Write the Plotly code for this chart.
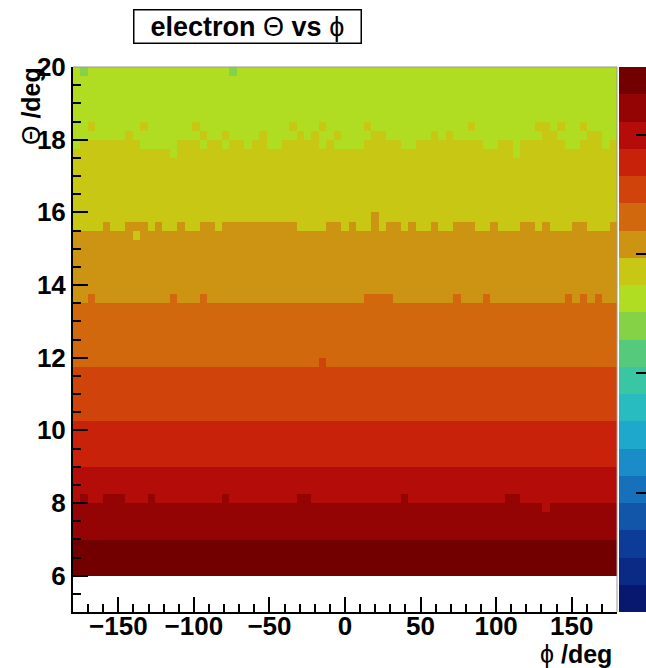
import numpy as np
import plotly.graph_objects as go

# ---------------- data ----------------
# histogram binning
phi_min, phi_max, n_phi = -180.0, 180.0, 73
theta_lo, theta_hi, theta_step = 6.0, 20.0, 0.25

# colour level (0 = lowest, 19 = highest of the 20 log-z contours) per theta row, bottom -> top
row_level = [19, 19, 19, 19,          # 6.00 - 7.00
             18, 18, 18, 18,          # 7.00 - 8.00
             17, 17, 17, 17,          # 8.00 - 9.00
             16, 16, 16, 16, 16,      # 9.00 - 10.25
             15, 15, 15, 15, 15, 15,  # 10.25 - 11.75
             14, 14, 14, 14, 14, 14, 14,  # 11.75 - 13.50
             13, 13, 13, 13, 13, 13, 13, 13,  # 13.50 - 15.50
             12, 12, 12, 12, 12, 12, 12, 12, 12, 12,  # 15.50 - 18.00
             11, 11, 11, 11, 11, 11, 11, 11]  # 18.00 - 20.00

# cells that differ from their row level: (row, column, level)
exceptions = [
    (55, 1, 10), (55, 21, 10),
    (49, 2, 12), (49, 9, 12), (49, 16, 12), (49, 29, 12), (49, 33, 12),
    (49, 39, 12), (49, 53, 12), (49, 62, 12), (49, 63, 12), (49, 65, 12), (49, 68, 12),
    (48, 7, 12), (48, 17, 12), (48, 20, 12), (48, 25, 12), (48, 30, 12), (48, 32, 12),
    (48, 35, 12), (48, 40, 12), (48, 41, 12), (48, 48, 12), (48, 50, 12),
    (48, 63, 12), (48, 64, 12), (48, 69, 12), (48, 70, 12),
    (47, 0, 11), (47, 9, 11), (47, 10, 11), (47, 11, 11), (47, 12, 11), (47, 13, 11),
    (47, 17, 11), (47, 20, 11), (47, 23, 11), (47, 26, 11), (47, 27, 11), (47, 33, 11),
    (47, 35, 11), (47, 36, 11), (47, 37, 11), (47, 38, 11), (47, 44, 11), (47, 45, 11),
    (47, 55, 11), (47, 56, 11), (47, 59, 11), (47, 66, 11), (47, 67, 11), (47, 71, 11),
    (46, 13, 11), (46, 59, 11),
    (39, 40, 13),
    (38, 4, 13), (38, 7, 13), (38, 8, 13), (38, 9, 13), (38, 11, 13), (38, 14, 13),
    (38, 17, 13), (38, 18, 13), (38, 20, 13), (38, 21, 13), (38, 22, 13), (38, 23, 13),
    (38, 24, 13), (38, 25, 13), (38, 26, 13), (38, 27, 13), (38, 28, 13), (38, 29, 13),
    (38, 34, 13), (38, 35, 13), (38, 37, 13), (38, 40, 13), (38, 42, 13), (38, 43, 13),
    (38, 45, 13), (38, 48, 13), (38, 51, 13), (38, 52, 13), (38, 53, 13), (38, 56, 13),
    (38, 60, 13), (38, 61, 13), (38, 63, 13), (38, 67, 13), (38, 68, 13), (38, 72, 13),
    (37, 8, 12),
    (30, 2, 14), (30, 13, 14), (30, 17, 14), (30, 39, 14), (30, 40, 14), (30, 41, 14),
    (30, 42, 14), (30, 51, 14), (30, 55, 14), (30, 66, 14), (30, 68, 14), (30, 70, 14),
    (23, 33, 15),
    (8, 1, 18), (8, 4, 18), (8, 5, 18), (8, 6, 18), (8, 10, 18), (8, 20, 18),
    (8, 30, 18), (8, 31, 18), (8, 44, 18), (8, 58, 18), (8, 59, 18),
    (7, 63, 17),
]

# log10(counts) scale of the colour palette
log_z_min, log_z_max, n_levels = 0.0, 4.57, 20
palette = ["#07186e", "#0a2a86", "#0c3c98", "#1256aa", "#1670bc",
           "#1a8cc8", "#1ea8cc", "#28bcc0", "#3ac6a4", "#56ca7c",
           "#86d246", "#b0dc22", "#c8c814", "#cc9412", "#d2680e",
           "#d0440c", "#c8220a", "#b40c08", "#940404", "#720000"]

# axis ticks
x_tickvals = [-150, -100, -50, 0, 50, 100, 150]
y_tickvals = [6, 8, 10, 12, 14, 16, 18, 20]
cbar_major = [0, 1, 2, 3, 4]

# ---------------- build histogram ----------------
x_edges = np.linspace(phi_min, phi_max, n_phi + 1)
x_cent = 0.5 * (x_edges[:-1] + x_edges[1:])
n_theta = int(round((theta_hi - theta_lo) / theta_step))
y_edges = theta_lo + theta_step * np.arange(n_theta + 1)
y_cent = 0.5 * (y_edges[:-1] + y_edges[1:])

dz = (log_z_max - log_z_min) / n_levels
levels = np.array(row_level, dtype=float)[:, None] * np.ones((1, n_phi))
for r, c, lv in exceptions:
    levels[r, c] = lv
z = log_z_min + (levels + 0.5) * dz

colorscale = []
for i, col in enumerate(palette):
    colorscale.append([i / n_levels, col])
    colorscale.append([(i + 1) / n_levels, col])

cbar_minor = [np.log10(m * 10 ** d) for d in range(0, 5) for m in range(2, 10)
              if np.log10(m * 10 ** d) < log_z_max]

font_family = "Liberation Sans, Arial, Helvetica, sans-serif"
tick_font = dict(family=font_family, size=26, color="black", weight="bold")

common_cb = dict(x=1.0037, xanchor="left", xpad=0, ypad=0, y=0.5, yanchor="middle",
                 len=1, lenmode="fraction", thickness=31, outlinewidth=0,
                 showticklabels=False, ticks="inside", tickcolor="black", tickwidth=2)

fig = go.Figure()
fig.add_trace(go.Heatmap(
    x=x_cent, y=y_cent, z=z, zmin=log_z_min, zmax=log_z_max,
    colorscale=colorscale, zsmooth=False, hoverinfo="skip",
    colorbar=dict(**common_cb, tickmode="array", tickvals=cbar_minor, ticklen=7),
))
# second colour bar on top carries the long (decade) ticks
fig.add_trace(go.Heatmap(
    x=x_cent, y=y_cent, z=z, zmin=log_z_min, zmax=log_z_max,
    colorscale=colorscale, zsmooth=False, hoverinfo="skip",
    colorbar=dict(**common_cb, tickmode="array", tickvals=cbar_major, ticklen=14),
))

fig.update_xaxes(range=[phi_min, phi_max], tickvals=x_tickvals, ticks="inside",
                 ticklen=15, tickwidth=2, tickcolor="black", ticklabelstandoff=-10,
                 minor=dict(dtick=10, ticklen=8, ticks="inside", tickwidth=2, tickcolor="black"),
                 showline=True, linecolor="black", linewidth=2, showgrid=False, zeroline=False,
                 tickfont=tick_font)
fig.update_yaxes(range=[5, 20], tickvals=y_tickvals, ticks="inside",
                 ticklen=15, tickwidth=2, tickcolor="black",
                 minor=dict(dtick=0.5, ticklen=8, ticks="inside", tickwidth=2, tickcolor="black"),
                 showline=True, linecolor="black", linewidth=2, showgrid=False, zeroline=False,
                 tickfont=tick_font)

fig.add_shape(type="line", xref="paper", yref="paper", x0=0, x1=1, y0=1, y1=1,
              line=dict(color="#999999", width=1))
fig.add_shape(type="line", xref="paper", yref="paper", x0=1, x1=1, y0=0, y1=1,
              line=dict(color="#999999", width=1))

fig.add_annotation(text="&nbsp;&nbsp;<b>electron</b> \u0398 <b>vs</b> \u03d5&nbsp;&nbsp;",
                   xref="paper", yref="paper",
                   x=(247 - 73) / 544, y=1 + (67 - 26) / 545, xanchor="center", yanchor="middle",
                   showarrow=False, font=dict(family=font_family, size=27, color="black"),
                   bordercolor="black", borderwidth=1.5, borderpad=1, bgcolor="white")
fig.add_annotation(text="\u03d5 <b>/deg</b>", xref="paper", yref="paper",
                   x=1 - 3 / 544, y=-(654 - 612) / 545, xanchor="right", yanchor="middle",
                   showarrow=False, font=dict(family=font_family, size=25, color="black"))
fig.add_annotation(text="\u0398 <b>/deg</b>", xref="paper", yref="paper",
                   x=-(73 - 31) / 544, y=1 + 2 / 545, xanchor="center", yanchor="top", textangle=-90,
                   showarrow=False, font=dict(family=font_family, size=25, color="black"))

fig.update_layout(width=646, height=668, plot_bgcolor="white", paper_bgcolor="white",
                  margin=dict(l=73, r=29, t=67, b=56, autoexpand=False),
                  showlegend=False)
fig.write_html("out.html")
